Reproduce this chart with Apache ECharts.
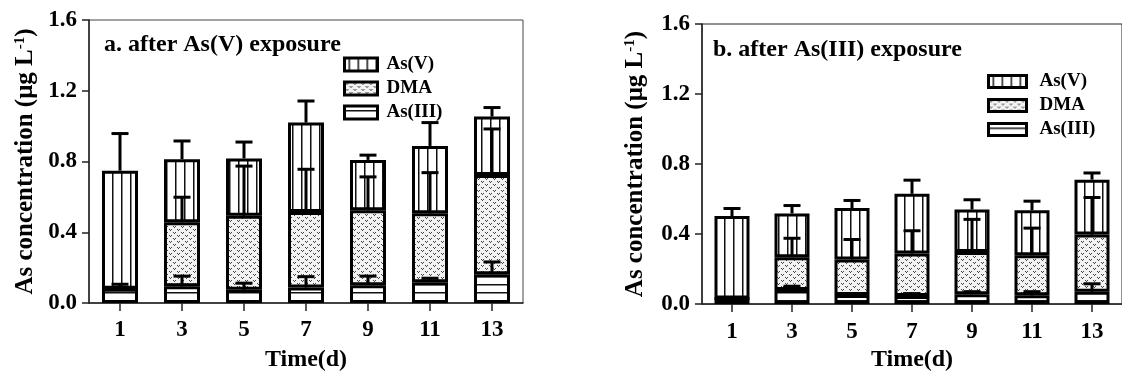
<!DOCTYPE html>
<html>
<head>
<meta charset="utf-8">
<script src="https://cdn.jsdelivr.net/npm/echarts@6/dist/echarts.min.js"></script>
<style>html,body{margin:0;padding:0;background:#fff}#c{width:1122px;height:377px}</style>
</head>
<body>
<div id="c"></div>
<script>
// ---- data ----
const days = ['1', '3', '5', '7', '9', '11', '13'];
const yTicks = [0, 0.4, 0.8, 1.2, 1.6];
const seriesNames = ['As(V)', 'DMA', 'As(III)'];

// Panel a: after As(V) exposure (segment amounts, stacked from bottom)
const aAsIII = [0.080, 0.094, 0.075, 0.088, 0.101, 0.118, 0.162];
const aDMA   = [0.000, 0.362, 0.418, 0.427, 0.423, 0.389, 0.561];
const aAsV   = [0.668, 0.357, 0.324, 0.505, 0.285, 0.381, 0.331];
const aAsIIIsd = [0.026, 0.058, 0.037, 0.061, 0.051, 0.022, 0.070];
const aDMAsd   = [0.000, 0.142, 0.281, 0.241, 0.189, 0.230, 0.261];
const aAsVsd   = [0.210, 0.103, 0.093, 0.122, 0.027, 0.132, 0.051];

// Panel b: after As(III) exposure
const bAsIII = [0.032, 0.080, 0.052, 0.046, 0.056, 0.050, 0.071];
const bDMA   = [0.000, 0.188, 0.203, 0.243, 0.242, 0.229, 0.326];
const bAsV   = [0.471, 0.250, 0.294, 0.341, 0.242, 0.257, 0.314];
const bAsIIIsd = [0.000, 0.022, 0.008, 0.014, 0.015, 0.021, 0.045];
const bDMAsd   = [0.000, 0.108, 0.114, 0.130, 0.186, 0.155, 0.212];
const bAsVsd   = [0.043, 0.045, 0.043, 0.078, 0.056, 0.052, 0.038];

// ---- patterns ----
function makePattern(w, h, draw) {
  const c = document.createElement('canvas');
  c.width = w; c.height = h;
  const ctx = c.getContext('2d');
  ctx.fillStyle = '#fff'; ctx.fillRect(0, 0, w, h);
  draw(ctx);
  return { image: c, repeat: 'repeat' };
}
const vertPat = makePattern(9, 4, ctx => { ctx.fillStyle = '#111'; ctx.fillRect(4, 0, 1.5, 4); });
const horzPat = makePattern(4, 8, ctx => { ctx.fillStyle = '#111'; ctx.fillRect(0, 4, 4, 1.5); });
const dotPat = makePattern(8, 6, ctx => {
  ctx.fillStyle = '#f2f2f2'; ctx.fillRect(0, 0, 8, 6);
  ctx.fillStyle = '#444';
  [[1,1],[3,1],[2,2],[5,4],[7,4],[6,5]].forEach(p => ctx.fillRect(p[0], p[1], 1, 1));
});

const FONT = '"Liberation Serif", "Times New Roman", serif';
const txt = (size) => ({ fontFamily: FONT, fontWeight: 'bold', fontSize: size, color: '#000' });

function errData(base, sd, segs) {
  const out = [];
  for (let i = 0; i < sd.length; i++) {
    if (!(sd[i] > 0)) continue;
    let top = 0;
    base.forEach(arr => top += arr[i]);
    top += segs[i];
    out.push([i, top, top + sd[i]]);
  }
  return out;
}

let errCount = 0;
function errSeries(idx, data, capW) {
  return {
    type: 'custom', name: 'err' + (errCount++),
    xAxisIndex: idx, yAxisIndex: idx, z: 10, silent: true,
    data: data,
    encode: { x: 0, y: [1, 2] },
    renderItem: function (params, api) {
      const p0 = api.coord([api.value(0), api.value(1)]);
      const p1 = api.coord([api.value(0), api.value(2)]);
      const h = capW / 2;
      return {
        type: 'group', children: [
          { type: 'line', shape: { x1: p0[0], y1: p0[1], x2: p1[0], y2: p1[1] }, style: { stroke: '#000', lineWidth: 3 } },
          { type: 'line', shape: { x1: p1[0] - h, y1: p1[1], x2: p1[0] + h, y2: p1[1] }, style: { stroke: '#000', lineWidth: 3 } }
        ]
      };
    }
  };
}

function barSeries(idx, name, data, pat, bw) {
  return {
    type: 'bar', name: name, stack: 'p' + idx, xAxisIndex: idx, yAxisIndex: idx,
    data: data, barWidth: bw,
    itemStyle: { color: pat, borderColor: '#000', borderWidth: 3 },
    emphasis: { disabled: true }
  };
}

function yAx(idx, gap) {
  return {
    type: 'value', gridIndex: idx, min: 0, max: 1.6, interval: 0.4,
    axisLine: { show: true, lineStyle: { color: '#222', width: 1.5 } },
    axisTick: { show: true, length: 7, lineStyle: { color: '#222', width: 1.5 } },
    splitLine: { show: false },
    axisLabel: { margin: 12, formatter: v => v.toFixed(1), ...txt(23) },
    name: 'As concentration (μg L{sup|-1})',
    nameLocation: 'middle', nameGap: gap, nameRotate: 90,
    nameTextStyle: { ...txt(25), rich: { sup: { ...txt(15), verticalAlign: 'top', padding: [0, 0, 11, 0] } } }
  };
}
function xAx(idx, gap) {
  return {
    type: 'category', gridIndex: idx, data: days,
    axisLine: { show: true, lineStyle: { color: '#222', width: 1.5 } },
    axisTick: { show: true, alignWithLabel: true, length: 8, lineStyle: { color: '#222', width: 1.5 } },
    axisLabel: { margin: 16, ...txt(23) },
    name: 'Time(d)', nameLocation: 'middle', nameGap: gap,
    nameTextStyle: txt(24)
  };
}

const option = {
  animation: false,
  backgroundColor: '#fff',
  title: [
    { text: 'a. after As(V) exposure', left: 99, top: 28, textStyle: txt(24) },
    { text: 'b. after As(III) exposure', left: 708, top: 33, textStyle: txt(24) }
  ],
  legend: [
    { data: seriesNames, orient: 'vertical', left: 343, top: 55, padding: 0, itemWidth: 33, itemHeight: 13, itemGap: 5,
      icon: 'rect', selectedMode: false, textStyle: { ...txt(19), padding: [0, 0, 0, 4] },
      itemStyle: { borderColor: '#000', borderWidth: 3 } },
    { data: seriesNames, orient: 'vertical', left: 987, top: 72, padding: 0, itemWidth: 38, itemHeight: 12, itemGap: 5,
      icon: 'rect', selectedMode: false, textStyle: { ...txt(19), padding: [0, 0, 0, 8] },
      itemStyle: { borderColor: '#000', borderWidth: 3 } }
  ],
  grid: [
    { left: 89, top: 20, width: 434, height: 289.5, show: true, borderColor: '#444', borderWidth: 1, containLabel: false },
    { left: 702, top: 24, width: 427, height: 286, show: true, borderColor: '#222', borderWidth: 1, containLabel: false }
  ],
  xAxis: [xAx(0, 45), xAx(1, 41)],
  yAxis: [yAx(0, 50), yAx(1, 53)],
  series: [
    barSeries(0, 'As(III)', aAsIII, horzPat, 36),
    barSeries(0, 'DMA', aDMA, dotPat, 36),
    barSeries(0, 'As(V)', aAsV, vertPat, 36),
    barSeries(1, 'As(III)', bAsIII, horzPat, 35),
    barSeries(1, 'DMA', bDMA, dotPat, 35),
    barSeries(1, 'As(V)', bAsV, vertPat, 35),
    errSeries(0, errData([], aAsIIIsd, aAsIII), 17),
    errSeries(0, errData([aAsIII], aDMAsd, aDMA), 17),
    errSeries(0, errData([aAsIII, aDMA], aAsVsd, aAsV), 17),
    errSeries(1, errData([], bAsIIIsd, bAsIII), 17),
    errSeries(1, errData([bAsIII], bDMAsd, bDMA), 17),
    errSeries(1, errData([bAsIII, bDMA], bAsVsd, bAsV), 17)
  ]
};
const chart = echarts.init(document.getElementById('c'), null, { renderer: 'canvas' });
chart.setOption(option);
</script>
</body>
</html>
